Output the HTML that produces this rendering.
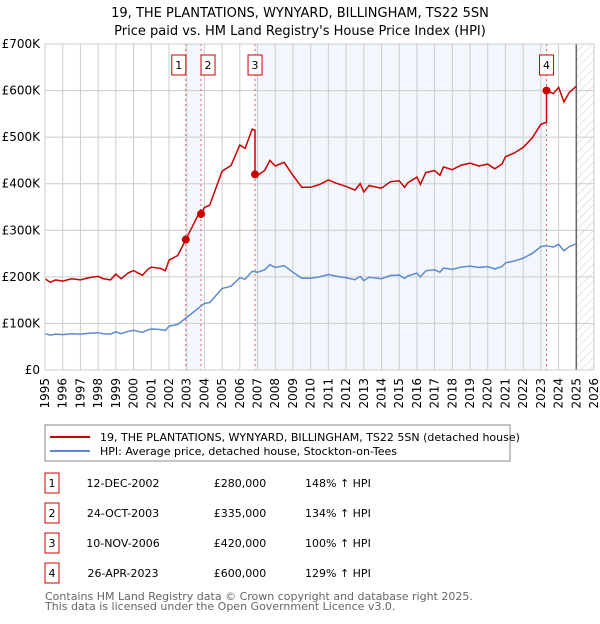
<!DOCTYPE html>
<html><head><meta charset="utf-8"><style>
body{margin:0;background:#fff;font-family:"DejaVu Sans","Liberation Sans",sans-serif;}
svg text{font-family:"DejaVu Sans","Liberation Sans",sans-serif;}
</style></head><body>
<svg id="c" width="600" height="620" xmlns="http://www.w3.org/2000/svg">
<defs><pattern id="hatch" width="6" height="6" patternUnits="userSpaceOnUse" patternTransform="rotate(45)"><line x1="0" y1="0" x2="0" y2="6" stroke="#ccc" stroke-width="1"/></pattern></defs>
<text x="300" y="17" text-anchor="middle" font-size="13">19, THE PLANTATIONS, WYNYARD, BILLINGHAM, TS22 5SN</text>
<text x="300" y="35" text-anchor="middle" font-size="13">Price paid vs. HM Land Registry's House Price Index (HPI)</text>
<g id="plot"></g>
<rect x="45" y="425" width="465" height="36" fill="#fff" stroke="#888"/>
<line x1="50" y1="437" x2="90" y2="437" stroke="#cc0000" stroke-width="2"/>
<text x="100" y="441" font-size="11">19, THE PLANTATIONS, WYNYARD, BILLINGHAM, TS22 5SN (detached house)</text>
<line x1="50" y1="451" x2="90" y2="451" stroke="#5b8bd0" stroke-width="2"/>
<text x="100" y="455" font-size="11">HPI: Average price, detached house, Stockton-on-Tees</text>
<g id="table" font-size="11"></g>
<text x="45" y="600" font-size="11" fill="#666">Contains HM Land Registry data © Crown copyright and database right 2025.</text>
<text x="45" y="610" font-size="11" fill="#666">This data is licensed under the Open Government Licence v3.0.</text>
</svg>
<script>
const hpiYears=[1995,1995.3,1995.6,1996,1996.5,1997,1997.5,1998,1998.3,1998.7,1999,1999.3,1999.7,2000,2000.5,2000.8,2001,2001.5,2001.8,2002,2002.5,2003,2003.5,2004,2004.3,2005,2005.5,2006,2006.3,2006.7,2007,2007.4,2007.7,2008,2008.5,2009,2009.5,2010,2010.5,2011,2011.5,2012,2012.5,2012.8,2013,2013.3,2013.5,2014,2014.5,2015,2015.3,2015.5,2016,2016.2,2016.5,2017,2017.3,2017.5,2018,2018.5,2019,2019.5,2020,2020.4,2020.8,2021,2021.5,2022,2022.5,2023,2023.3,2023.7,2024,2024.3,2024.6,2025];
const hpiValues=[78,75,77,76,78,77,79,80,78,77,82,78,83,85,81,86,88,87,85,94,98,113,128,143,145,175,180,198,195,212,210,215,226,220,224,210,197,197,200,205,201,198,194,201,192,199,198,196,203,204,197,202,208,200,213,215,210,219,216,221,223,220,222,217,222,230,234,240,250,265,267,264,270,256,265,271];
const saleYears=[2002.95,2003.81,2006.86,2023.32];
const salePrices=[280,335,420,600];
const saleLabels=["1","2","3","4"];
const saleDates=["12-DEC-2002","24-OCT-2003","10-NOV-2006","26-APR-2023"];
const salePriceText=["£280,000","£335,000","£420,000","£600,000"];
const saleHpiText=["148% ↑ HPI","134% ↑ HPI","100% ↑ HPI","129% ↑ HPI"];
const yTicks=[0,100,200,300,400,500,600,700];
const yTickLabels=["£0","£100K","£200K","£300K","£400K","£500K","£600K","£700K"];
const xTicks=[];for(let y=1995;y<=2026;y++)xTicks.push(y);

const NS="http://www.w3.org/2000/svg";
const X0=45,X1=594,Y0=370,Y1=44;
const xs=t=>X0+(t-1995)/(2026-1995)*(X1-X0);
const ys=v=>Y0-v/700*(Y0-Y1);
function el(tag,attrs,parent,txt){const e=document.createElementNS(NS,tag);for(const k in attrs)e.setAttribute(k,attrs[k]);if(txt!=null)e.textContent=txt;parent.appendChild(e);return e;}
function hpiAt(t){for(let i=0;i<hpiYears.length-1;i++){if(t<=hpiYears[i+1]){const f=(t-hpiYears[i])/(hpiYears[i+1]-hpiYears[i]);return hpiValues[i]+f*(hpiValues[i+1]-hpiValues[i]);}}return hpiValues[hpiValues.length-1];}
const g=document.getElementById('plot');
let r;
r=el('rect',{x:X0,y:Y1,width:X1-X0,height:Y0-Y1,fill:'#fff'},g);

r=el('rect',{x:xs(saleYears[0]),y:Y1,width:xs(saleYears[1])-xs(saleYears[0]),height:Y0-Y1,fill:'#f2f6fd'},g);

r=el('rect',{x:xs(saleYears[2]),y:Y1,width:xs(saleYears[3])-xs(saleYears[2]),height:Y0-Y1,fill:'#f2f6fd'},g);

r=el('rect',{x:xs(2025),y:Y1,width:X1-xs(2025),height:Y0-Y1,fill:'url(#hatch)'},g);

xTicks.forEach(t=>{const l=el('line',{x1:xs(t),x2:xs(t),y1:Y1,y2:Y0,stroke:'#ccc'},g);
 const tx=el('text',{x:0,y:0,'font-size':12,'text-anchor':'end',transform:`translate(${xs(t)+4},${Y0+8}) rotate(-90)`},g,String(t));});
yTicks.forEach((v,i)=>{const l=el('line',{x1:X0,x2:X1,y1:ys(v),y2:ys(v),stroke:'#ccc'},g);
 const tx=el('text',{x:X0-5,y:ys(v)+4,'font-size':12,'text-anchor':'end'},g,yTickLabels[i]);});
r=el('line',{x1:xs(2025),x2:xs(2025),y1:Y1,y2:Y0,stroke:'#666','stroke-width':1.5},g);

saleYears.forEach((t,i)=>{const l=el('line',{x1:xs(t),x2:xs(t),y1:Y1,y2:Y0,stroke:'#e06060','stroke-dasharray':'2,3'},g);});
let d='';hpiYears.forEach((t,i)=>{d+=(i?'L':'M')+xs(t).toFixed(1)+','+ys(hpiValues[i]).toFixed(1);});
r=el('path',{d:d,fill:'none',stroke:'#5b8bd0','stroke-width':1.5},g);

const hs=saleYears.map(hpiAt);
function propAt(t){let k=0;for(let i=0;i<saleYears.length;i++)if(t>=saleYears[i])k=i;return hpiAt(t)*salePrices[k]/hs[k];}
const pts=[...hpiYears];saleYears.forEach(t=>{pts.push(t-0.001);pts.push(t);});pts.sort((a,b)=>a-b);
d='';pts.forEach((t,i)=>{d+=(i?'L':'M')+xs(t).toFixed(1)+','+ys(propAt(t)).toFixed(1);});
r=el('path',{d:d,fill:'none',stroke:'#cc0000','stroke-width':1.5},g);

saleYears.forEach((t,i)=>{const c=el('circle',{cx:xs(t),cy:ys(salePrices[i]),r:4,fill:'#cc0000'},g);
 const off=i===0?-7:(i===1?7:0);
 const b=el('rect',{x:xs(t)+off-7,y:55,width:14,height:20,fill:'#fff',stroke:'#cc0000'},g);
 const tx=el('text',{x:xs(t)+off,y:69,'font-size':11,'text-anchor':'middle'},g,saleLabels[i]);});
r=el('rect',{x:X0,y:Y1,width:X1-X0,height:Y0-Y1,fill:'none',stroke:'#ccc'},g);

const tb=document.getElementById('table');
saleYears.forEach((t,i)=>{const cy=483+30*i;
 const b=el('rect',{x:45,y:cy-10,width:14,height:20,fill:'#fff',stroke:'#cc0000'},tb);
 let tx=el('text',{x:52,y:cy+4,'text-anchor':'middle'},tb,saleLabels[i]);
 tx=el('text',{x:123,y:cy+4,'text-anchor':'middle'},tb,saleDates[i]);
 tx=el('text',{x:240,y:cy+4,'text-anchor':'middle'},tb,salePriceText[i]);
 tx=el('text',{x:305,y:cy+4},tb,saleHpiText[i]);});
</script>
</body></html>
